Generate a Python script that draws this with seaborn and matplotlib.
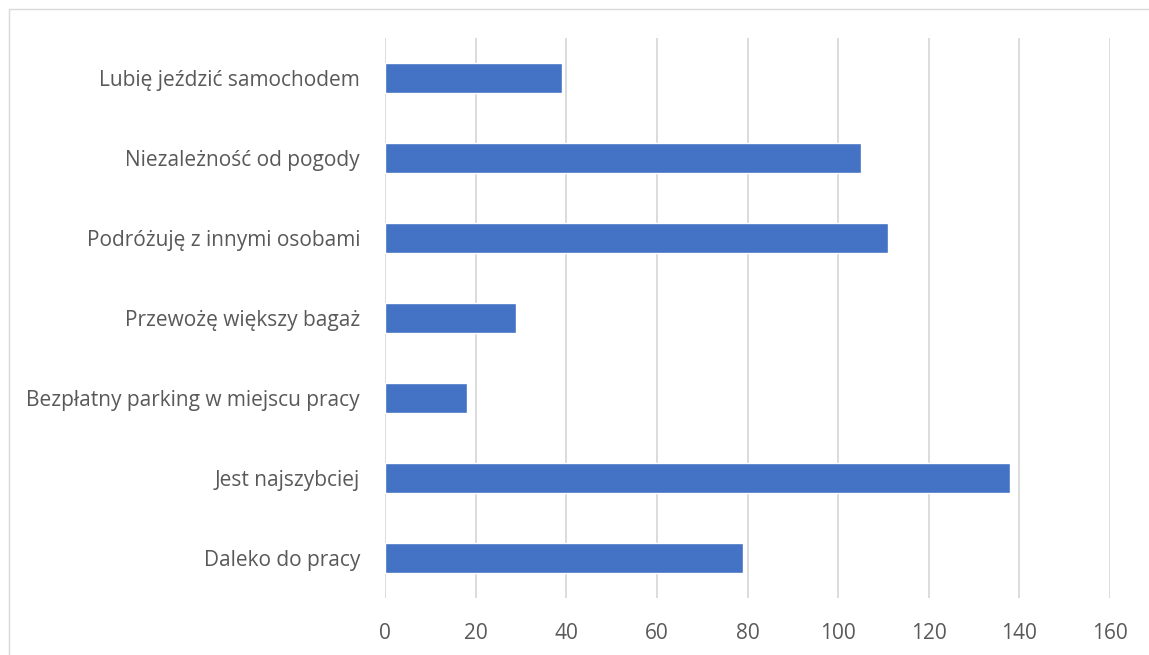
import matplotlib
matplotlib.use("Agg")
import matplotlib.pyplot as plt
import seaborn as sns
import pandas as pd
from matplotlib.patches import Rectangle

categories = [
    "Lubię jeździć samochodem",
    "Niezależność od pogody",
    "Podróżuję z innymi osobami",
    "Przewożę większy bagaż",
    "Bezpłatny parking w miejscu pracy",
    "Jest najszybciej",
    "Daleko do pracy",
]
values = [39, 105, 111, 29, 18, 138, 79]
x_ticks = [0, 20, 40, 60, 80, 100, 120, 140, 160]

sns.set_theme(style="white")
plt.rcParams["font.family"] = ["Open Sans", "DejaVu Sans"]

df = pd.DataFrame({"cat": categories, "val": values})

fig = plt.figure(figsize=(11.49, 6.55), dpi=100)
ax = fig.add_axes([385/1149, 1-598/655, (1110-385)/1149, (598-38)/655])

sns.barplot(data=df, x="val", y="cat", orient="h", color="#4472C4",
            width=0.38, saturation=1, ax=ax, order=categories, zorder=3)

ax.set_xlim(0, 160)
ax.set_xticks(x_ticks)
ax.set_xticklabels([str(t) for t in x_ticks])
ax.set_xlabel("")
ax.set_ylabel("")
for s in ax.spines.values():
    s.set_visible(False)
ax.grid(axis="x", color="#D9D9D9", linewidth=1.3, zorder=0)
ax.grid(axis="y", visible=False)
ax.set_axisbelow(True)
ax.tick_params(axis="both", length=0, labelsize=15, colors="#595959")
ax.tick_params(axis="y", pad=18)
ax.tick_params(axis="x", pad=18)

fig.patches.append(Rectangle((9/1149, -0.1), 1.2, 1 - 9/655 + 0.1,
                             transform=fig.transFigure, fill=False,
                             edgecolor="#D9D9D9", linewidth=1.0))

fig.savefig("out.png", dpi=100)
